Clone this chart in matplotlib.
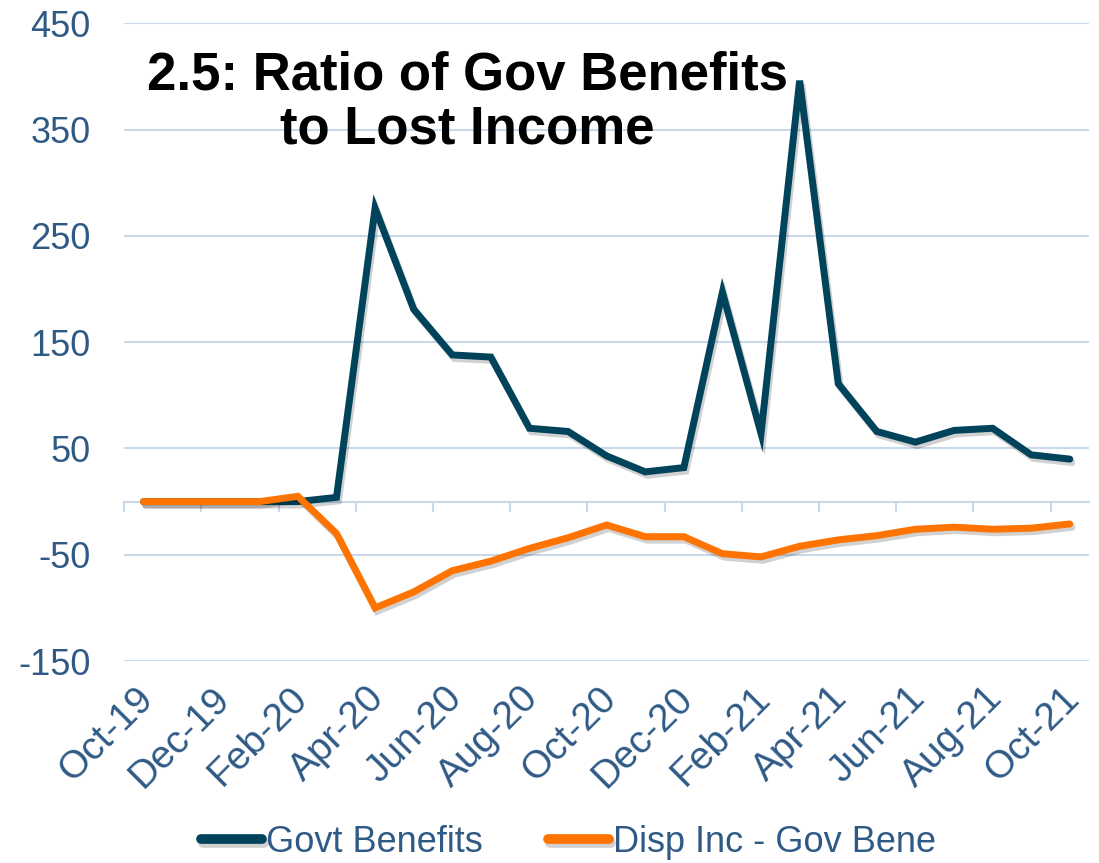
import matplotlib
matplotlib.use("Agg")
import matplotlib.pyplot as plt
import matplotlib.patheffects as pe
import matplotlib.transforms as mtransforms
import numpy as np

months = ["Oct-19", "Nov-19", "Dec-19", "Jan-20", "Feb-20", "Mar-20", "Apr-20",
          "May-20", "Jun-20", "Jul-20", "Aug-20", "Sep-20", "Oct-20", "Nov-20",
          "Dec-20", "Jan-21", "Feb-21", "Mar-21", "Apr-21", "May-21", "Jun-21",
          "Jul-21", "Aug-21", "Sep-21", "Oct-21"]
govt_benefits = [0, 0, 0, 0, 0, 4, 276, 181, 138, 136, 69, 66, 43, 28,
                 32, 197, 64, 396, 111, 66, 56, 67, 69, 44, 40]
disp_inc_less_gov = [0, 0, 0, 0, 5, -30, -100, -85, -65, -56, -44, -34, -22, -33,
                     -33, -49, -52, -42, -36, -32, -26, -24, -26, -25, -21]
y_ticks = [-150, -50, 50, 150, 250, 350, 450]

plt.rcParams["font.family"] = ["Liberation Sans", "DejaVu Sans"]
plt.rcParams["axes.unicode_minus"] = False
label_color = "#2F5A86"
grid_color = "#C9D9EA"

fig = plt.figure(figsize=(10.99, 8.63), dpi=100)
ax = fig.add_axes([0.113, 0.234, 0.878, 0.739])

x = np.arange(len(months))
shadow = [pe.SimpleLineShadow(offset=(1.5, -2.5), shadow_color="black", alpha=0.18),
          pe.Normal()]
ax.plot(x, govt_benefits, color="#00435A", lw=5, solid_capstyle="round",
        solid_joinstyle="miter", label="Govt Benefits", path_effects=shadow, zorder=3)
ax.plot(x, disp_inc_less_gov, color="#FF7300", lw=5, solid_capstyle="round",
        solid_joinstyle="miter", label="Disp Inc - Gov Bene", path_effects=shadow, zorder=3)

ax.set_xlim(-0.5, len(months) - 0.5)
ax.set_ylim(-150, 450)
ax.set_yticks(y_ticks)
ax.grid(axis="y", color=grid_color, lw=1.5)
ax.set_axisbelow(True)
ax.tick_params(axis="y", length=0, pad=24, labelsize=26, labelcolor=label_color)

for side in ["left", "right", "top"]:
    ax.spines[side].set_visible(False)
ax.spines["bottom"].set_position(("data", 0))
ax.spines["bottom"].set_color(grid_color)
ax.spines["bottom"].set_linewidth(1.5)

# tick marks between categories, every second one
ax.set_xticks(np.arange(-0.5, len(months) - 1, 2))
ax.tick_params(axis="x", direction="out", length=7, width=1.5, color=grid_color,
               labelbottom=False)

# category labels at the bottom of the plot
trans = mtransforms.blended_transform_factory(ax.transData, ax.transAxes)
for i in range(0, len(months), 2):
    ax.text(i + 0.1, -0.05, months[i], transform=trans, rotation=45,
            rotation_mode="anchor", ha="right", va="center", fontsize=28,
            color=label_color)

fig.text(0.425, 0.881, "2.5: Ratio of Gov Benefits\nto Lost Income", ha="center",
         va="center", fontsize=38, fontweight="bold", color="black", linespacing=1.1)

leg = fig.legend(loc="center", bbox_to_anchor=(0.517, 0.024), ncol=2, frameon=False,
                 fontsize=26, handlelength=1.7, handletextpad=0.1, columnspacing=1.8,
                 labelcolor=label_color)
for line in leg.get_lines():
    line.set_linewidth(7)

fig.savefig("out.png", dpi=100)
